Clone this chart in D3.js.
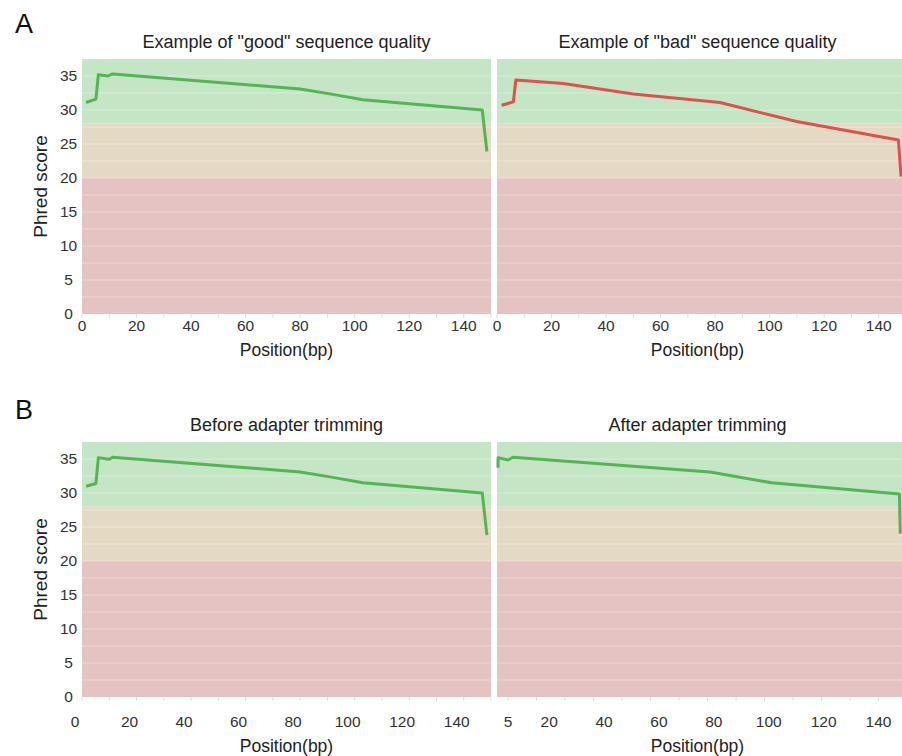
<!DOCTYPE html>
<meta charset="utf-8">
<title>Per-position Phred quality</title>
<style>
  body { margin: 0; background: #fff; }
  svg { display: block; font-family: "Liberation Sans", Arial, Helvetica, sans-serif; }
  .tick-label { fill: #333; font-size: 15.5px; }
  .axis-title { fill: #222; font-size: 17.5px; }
  .y-title { fill: #222; font-size: 19px; }
  .panel-title { fill: #222; font-size: 18px; }
  .panel-letter { fill: #111; font-size: 27px; }
</style>
<svg width="902" height="756"></svg>
<script src="https://d3js.org/d3.v7.min.js"></script>
<script>

  // data (position in bp, mean Phred score)
  var goodPos   = [1.5, 5.1, 6, 9.6, 11.2, 80, 92, 103, 146.8, 148.5];
  var goodScore = [31.1, 31.6, 35.2, 35.0, 35.3, 33.1, 32.3, 31.5, 30.0, 23.9];

  var badPos   = [1.7, 6.0, 6.9, 24.3, 50, 81.8, 109.9, 147.2, 148.2];
  var badScore = [30.7, 31.2, 34.4, 33.9, 32.35, 31.1, 28.3, 25.6, 20.2];

  var beforePos   = [1.5, 5.1, 6, 9.9, 11.2, 80, 92, 103, 146.8, 148.5];
  var beforeScore = [31.0, 31.4, 35.2, 34.95, 35.25, 33.1, 32.3, 31.5, 30.0, 23.8];

  var afterPos   = [1.36, 1.4, 5, 6.8, 78.6, 101, 147.6, 147.9];
  var afterScore = [33.7, 35.2, 34.85, 35.25, 33.1, 31.5, 29.85, 24.0];

  var yTicks = [0, 5, 10, 15, 20, 25, 30, 35];
  var xTicks = [0, 20, 40, 60, 80, 100, 120, 140];
  var xTicksTrimmed = [5, 20, 40, 60, 80, 100, 120, 140];

  // quality bands: [from, to, colour]
  var bands = [
    [0, 20, "#e5c3c3"],
    [20, 28, "#e4dac3"],
    [28, 37.5, "#c4e6c4"]
  ];

  var svg = d3.select("svg");

  var GREEN = "#55b455", RED = "#e05050";

  var panels = [
    {title: 'Example of "good" sequence quality', row: 0, col: 0, pos: goodPos, val: goodScore, color: GREEN,
     xdom: [0, 150], labels: xTicks, marks: d3.range(0, 151, 10), labelShift: 0},
    {title: 'Example of "bad" sequence quality', row: 0, col: 1, pos: badPos, val: badScore, color: RED,
     xdom: [0, 150], labels: xTicks, marks: d3.range(0, 151, 10), labelShift: 0},
    {title: "Before adapter trimming", row: 1, col: 0, pos: beforePos, val: beforeScore, color: GREEN,
     xdom: [0, 150], labels: xTicks, marks: d3.range(0, 151, 10), labelShift: -7},
    {title: "After adapter trimming", row: 1, col: 1, pos: afterPos, val: afterScore, color: GREEN,
     xdom: [1, 150], labels: xTicksTrimmed, marks: d3.range(14).map(function(i) { return 5 + i * 135 / 13; }), labelShift: 0}
  ];

  var rowTop = [59, 442], plotH = 255,
      colLeft = [82, 497], plotW = 409,
      labelGap = [12, 25];

  svg.append("text").attr("class", "panel-letter").attr("x", 15).attr("y", 33).text("A");
  svg.append("text").attr("class", "panel-letter").attr("x", 15).attr("y", 419).text("B");

  panels.forEach(function(p) {
    var x0 = colLeft[p.col], y0 = rowTop[p.row];
    var x = d3.scaleLinear().domain(p.xdom).range([x0, x0 + plotW]);
    var y = d3.scaleLinear().domain([0, 37.5]).range([y0 + plotH, y0]);
    var g = svg.append("g");

    g.selectAll("rect.band").data(bands).join("rect")
      .attr("class", "band")
      .attr("x", x0).attr("width", plotW)
      .attr("y", function(d) { return y(d[1]); })
      .attr("height", function(d) { return y(d[0]) - y(d[1]); })
      .attr("fill", function(d) { return d[2]; });

    // faint white grid every 2.5
    g.selectAll("line.grid").data(d3.range(2.5, 37.5, 2.5)).join("line")
      .attr("x1", x0).attr("x2", x0 + plotW)
      .attr("y1", function(d) { return y(d); }).attr("y2", function(d) { return y(d); })
      .attr("stroke", "#fff").attr("stroke-opacity", 0.35).attr("stroke-width", 1);

    // small tick marks under the plot
    g.selectAll("line.xmark").data(p.marks).join("line")
      .attr("x1", function(d) { return x(d); }).attr("x2", function(d) { return x(d); })
      .attr("y1", y0 + plotH).attr("y2", y0 + plotH + 4)
      .attr("stroke", "#ddd").attr("stroke-width", 1);

    g.selectAll("text.xl").data(p.labels).join("text")
      .attr("class", "tick-label")
      .attr("x", function(d) { return x(d) + p.labelShift; })
      .attr("y", y0 + plotH + labelGap[p.row])
      .attr("dy", "0.35em")
      .attr("text-anchor", "middle")
      .text(function(d) { return d; });

    if (p.col === 0) {
      g.selectAll("text.yl").data(yTicks).join("text")
        .attr("class", "tick-label")
        .attr("x", 68.5)
        .attr("y", function(d) { return y(d); })
        .attr("dy", "0.35em")
        .attr("text-anchor", "middle")
        .text(function(d) { return d; });

      g.append("text").attr("class", "y-title")
        .attr("transform", "translate(47," + (y0 + plotH / 2) + ") rotate(-90)")
        .attr("text-anchor", "middle")
        .text("Phred score");
    }

    var line = d3.line()
      .x(function(d) { return x(d[0]); })
      .y(function(d) { return y(d[1]); });

    g.append("path")
      .datum(d3.zip(p.pos, p.val))
      .attr("d", line)
      .attr("fill", "none")
      .attr("stroke", p.color)
      .attr("stroke-width", 3)
      .attr("stroke-linejoin", "round");

    g.append("text").attr("class", "panel-title")
      .attr("x", x0 + plotW / 2 - (p.col === 1 ? 4 : 0))
      .attr("y", y0 - 11)
      .attr("text-anchor", "middle")
      .text(p.title);

    g.append("text").attr("class", "axis-title")
      .attr("x", x0 + plotW / 2 - (p.col === 1 ? 4 : 0))
      .attr("y", y0 + plotH + labelGap[p.row] + 30)
      .attr("text-anchor", "middle")
      .text("Position(bp)");
  });

</script>
